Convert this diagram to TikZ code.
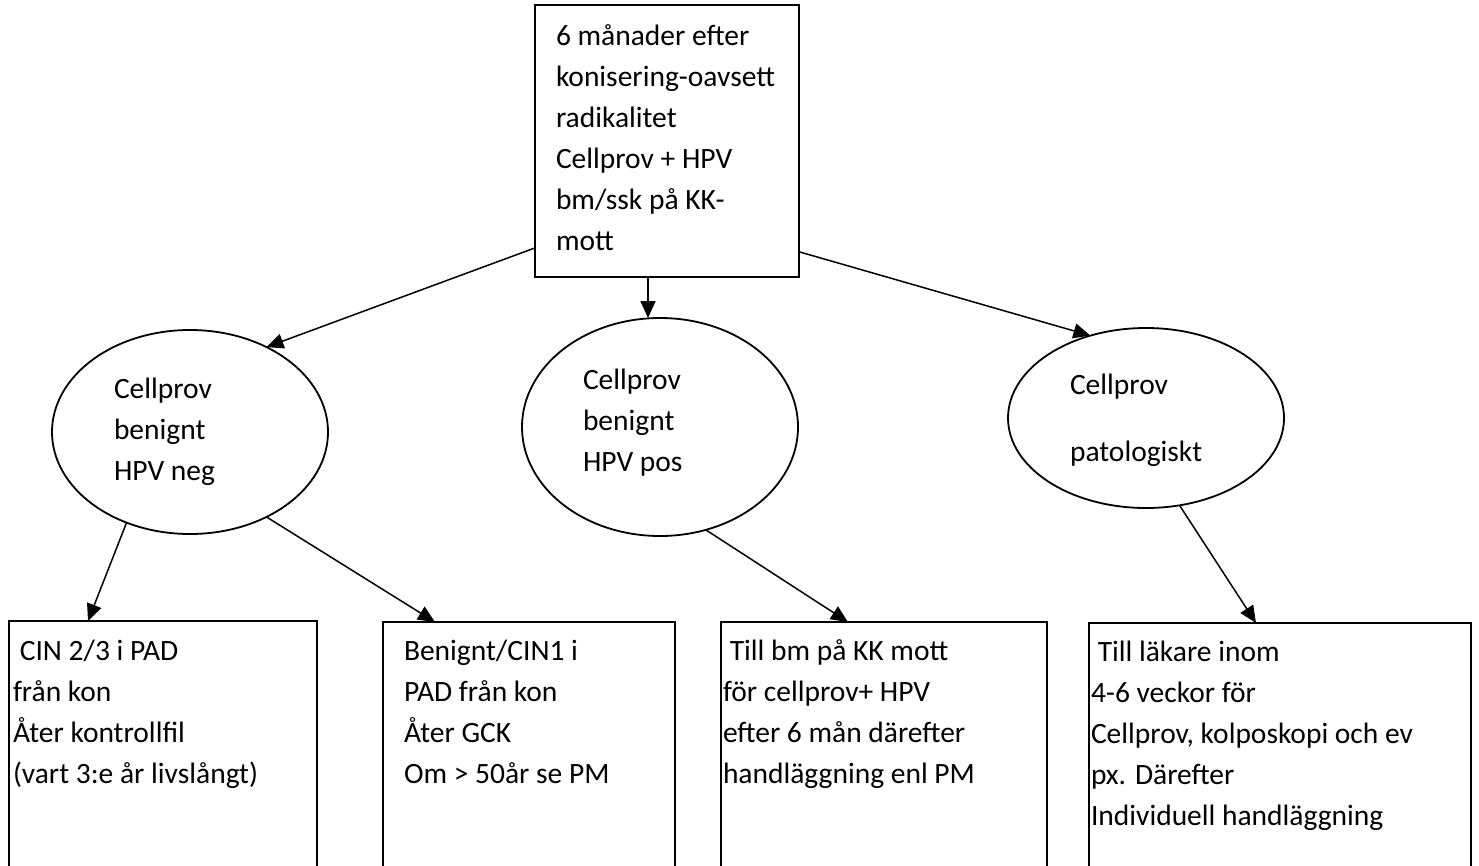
\documentclass[tikz,border=0pt]{standalone}
\usepackage{fontspec}
\setmainfont{Carlito}
\usetikzlibrary{shapes.geometric,arrows.meta,positioning}
\begin{document}
\begin{tikzpicture}[x=1pt,y=-1pt,inner sep=0pt,outer sep=0pt,line width=1.8pt,
box/.style={draw,rectangle,minimum height=300pt},
oval/.style={draw,ellipse,minimum width=276pt},
txt/.style={anchor=base west,align=left,font=\fontsize{29.5}{41}\selectfont},
arr/.style={line width=1.5pt,-{Triangle[length=17pt,width=15pt]}}]
\useasboundingbox (0,0) rectangle (1479,865);
\clip (0,0) rectangle (1479,865);
\draw (667,141) node[box,minimum width=264pt,minimum height=272pt] (start) {};
\draw (190,432) node[oval,minimum height=204pt] (neg) {};
\draw (660,427) node[oval,minimum height=218pt] (pos) {};
\draw (1146,418) node[oval,minimum height=180pt] (pat) {};
\draw (163,771) node[box,minimum width=308pt] (cin) {};
\draw (529,772) node[box,minimum width=292pt] (ben) {};
\draw (884,772) node[box,minimum width=326pt] (bm) {};
\draw (1280,773) node[box,minimum width=382pt] (lak) {};

% texts: base = last line
\draw (556,250) node[txt] (starttxt) {6 månader efter\\konisering-oavsett\\radikalitet\\Cellprov + HPV\\bm/ssk på KK-\\mott};
\draw (114,480) node[txt] (negtxt) {Cellprov\\benignt\\HPV neg};
\draw (583,471) node[txt] (postxt) {Cellprov\\benignt\\HPV pos};
\draw (1070,461) node[txt] (pattxt) {Cellprov\\[26pt]patologiskt};
\draw (13,783) node[txt] (cintxt) {\hspace*{0.23em}CIN 2/3 i PAD\\från kon\\Åter kontrollfil\\(vart 3:e år livslångt)};
\draw (404,783) node[txt] (bentxt) {Benignt/CIN1 i\\PAD från kon\\Åter GCK\\Om > 50år se PM};
\draw (723,783) node[txt] (bmtxt) {\hspace*{0.23em}Till bm på KK mott\\för cellprov+ HPV\\efter 6 mån därefter\\handläggning enl PM};
\draw (1091,825) node[txt] (laktxt) {\hspace*{0.23em}Till läkare inom\\4-6 veckor för\\Cellprov, kolposkopi och ev\\px. Därefter\\Individuell handläggning};

\draw[arr] (start.219) -- (neg.48);
\draw[arr] ([xshift=-19pt]start.south) -- ([xshift=-19pt]start.south |- pos.north);
\draw[arr] (start.-40) -- (pat.124);
\draw[arr] (neg.235) -- ([xshift=-75pt]cin.north);
\draw[arr] (neg.-48) -- ([xshift=-94pt]ben.north);
\draw[arr] (pos.-66) -- ([xshift=-36pt]bm.north);
\draw[arr] (pat.-69) -- ([xshift=-24pt]lak.north);
\end{tikzpicture}
\end{document}
